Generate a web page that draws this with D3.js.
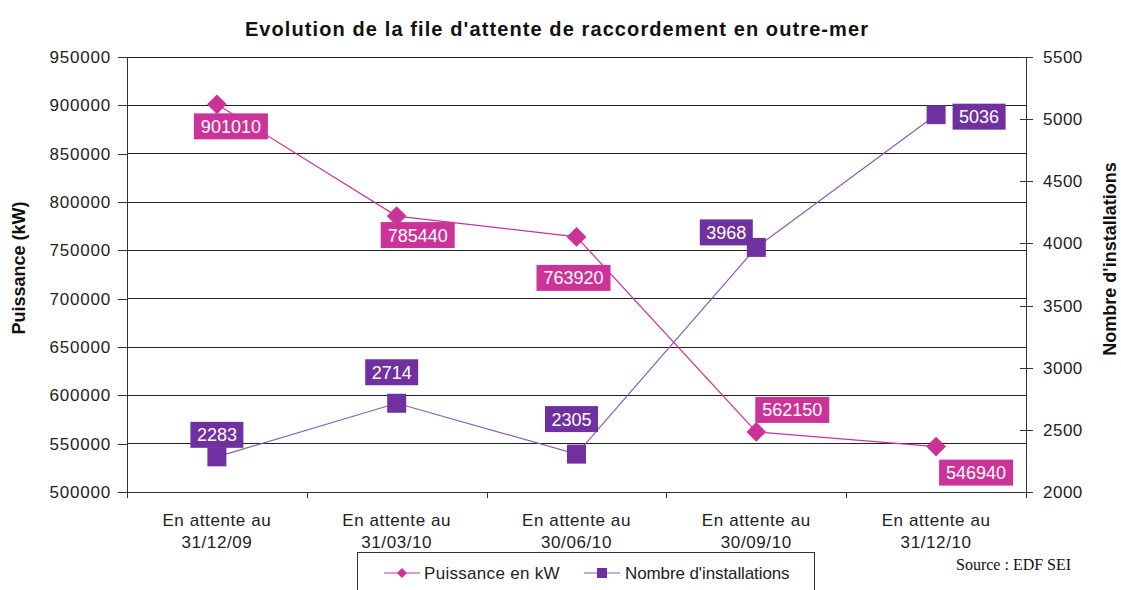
<!DOCTYPE html>
<html><head><meta charset="utf-8">
<script src="https://cdn.jsdelivr.net/npm/d3@7/dist/d3.min.js"></script>
<style>body{margin:0;background:#fff}svg{display:block}</style>
</head><body><svg id="c" width="1121" height="590" font-family='"Liberation Sans",Arial,sans-serif'></svg>
<script>
const categories = [["En attente au","31/12/09"],["En attente au","31/03/10"],["En attente au","30/06/10"],["En attente au","30/09/10"],["En attente au","31/12/10"]];
const puissance = [901010, 785440, 763920, 562150, 546940];
const installations = [2283, 2714, 2305, 3968, 5036];
const leftTicks = [500000,550000,600000,650000,700000,750000,800000,850000,900000,950000];
const rightTicks = [2000,2500,3000,3500,4000,4500,5000,5500];
const seriesNames = ["Puissance en kW","Nombre d'installations"];

const pink = "#cc3399", purple = "#7030a0";
const SANS = '"Liberation Sans",Arial,sans-serif';
const svg = d3.select("#c");
const L = 127, R = 1026, T = 57, B = 492;
const x = d3.scaleBand().domain(d3.range(categories.length)).range([L, R]);
const cx = i => x(i) + x.bandwidth()/2;
const yL = d3.scaleLinear().domain([500000, 950000]).range([B, T]);
const yR = d3.scaleLinear().domain([2000, 5500]).range([B, T]);

svg.append("text").attr("x", 557).attr("y", 36).attr("text-anchor","middle")
  .attr("font-size", 20).attr("font-weight","bold").attr("letter-spacing", 1.1).attr("fill","#111")
  .text("Evolution de la file d'attente de raccordement en outre-mer");

// gridlines
svg.append("g").selectAll("line").data(leftTicks.slice(1)).join("line")
  .attr("x1", L).attr("x2", R).attr("y1", d=>yL(d)).attr("y2", d=>yL(d))
  .attr("stroke", "#222").attr("stroke-width", 1).attr("shape-rendering","crispEdges");

// left axis
const gl = svg.append("g").attr("transform", `translate(${L},0)`)
  .call(d3.axisLeft(yL).tickValues(leftTicks).tickFormat(d3.format("d")).tickSize(9).tickPadding(7));
gl.attr("font-family", SANS);
gl.selectAll("text").attr("font-size", 17).attr("letter-spacing",0.8).attr("fill","#222");
gl.selectAll("line,path").attr("stroke","#333").attr("shape-rendering","crispEdges");
gl.select(".domain").attr("d", `M0,${T}V${B}`);

// right axis
const gr = svg.append("g").attr("transform", `translate(${R},0)`)
  .call(d3.axisRight(yR).tickValues(rightTicks).tickFormat(d3.format("d")).tickSize(7).tickPadding(10));
gr.attr("font-family", SANS);
gr.selectAll("text").attr("font-size", 17).attr("letter-spacing",0.5).attr("fill","#222");
gr.selectAll("line,path").attr("stroke","#333").attr("shape-rendering","crispEdges");
gr.select(".domain").attr("d", `M0,${T}V${B}`);
gr.selectAll(".tick line").attr("x1", -6);

// bottom axis
const xb = d3.scaleLinear().domain([0, categories.length]).range([L, R]);
const gb = svg.append("g").attr("transform", `translate(0,${B})`)
  .call(d3.axisBottom(xb).tickValues(d3.range(categories.length+1)).tickFormat("").tickSize(6));
gb.selectAll("line,path").attr("stroke","#333").attr("shape-rendering","crispEdges");
gb.select(".domain").attr("d", `M${L},0H${R}`);
categories.forEach((c,i)=>{
  const t = svg.append("text").attr("x", cx(i)).attr("y", 526).attr("text-anchor","middle")
    .attr("font-size",17).attr("letter-spacing",0.6).attr("fill","#222");
  t.append("tspan").attr("x", cx(i)).text(c[0]);
  t.append("tspan").attr("x", cx(i)).attr("dy", 22).text(c[1]);
});

// axis titles
svg.append("text").attr("transform","translate(25,268) rotate(-90)").attr("text-anchor","middle")
  .attr("font-size",18).attr("font-weight","bold").attr("fill","#111").text("Puissance (kW)");
svg.append("text").attr("transform","translate(1116,259) rotate(-90)").attr("text-anchor","middle")
  .attr("font-size",18).attr("font-weight","bold").attr("fill","#111").text("Nombre d'installations");

// lines
svg.append("path").datum(puissance).attr("fill","none").attr("stroke",pink).attr("stroke-width",1.2)
  .attr("d", d3.line().x((d,i)=>cx(i)).y(d=>yL(d)));
svg.append("path").datum(installations).attr("fill","none").attr("stroke","#8a5cb5").attr("stroke-width",1.2)
  .attr("d", d3.line().x((d,i)=>cx(i)).y(d=>yR(d)));

// markers
svg.append("g").selectAll("rect").data(puissance).join("rect")
  .attr("x",-7).attr("y",-7).attr("width",14).attr("height",14)
  .attr("transform",(d,i)=>`translate(${cx(i)},${yL(d)}) rotate(45)`).attr("fill",pink);
svg.append("g").selectAll("rect").data(installations).join("rect")
  .attr("x",(d,i)=>cx(i)-9.5).attr("y",d=>yR(d)-9.5).attr("width",19).attr("height",19).attr("fill",purple);

// data labels (offsets of label centre from marker)
const pOff = [[14,22],[21,19],[-3,41],[36,-22],[40,26]];
const iOff = [[0,-22],[-5,-31],[-5,-35],[-30,-15],[43,2]];
function labels(vals, scale, offs, color, w){
  const g = svg.append("g").selectAll("g").data(vals).join("g")
    .attr("transform",(d,i)=>`translate(${cx(i)+offs[i][0]},${scale(d)+offs[i][1]})`);
  g.append("rect").attr("x", -w/2).attr("y",-13).attr("width", w).attr("height",26).attr("fill",color);
  g.append("text").attr("text-anchor","middle").attr("y",6.5).attr("font-size",18).attr("fill","#fff").text(d=>d);
}
labels(puissance, yL, pOff, pink, 74);
labels(installations, yR, iOff, purple, 53);

// legend
svg.append("rect").attr("x",357.5).attr("y",552.5).attr("width",457).attr("height",50).attr("fill","#fff").attr("stroke","#333");
svg.append("line").attr("x1",384).attr("x2",420).attr("y1",573).attr("y2",573).attr("stroke",pink).attr("stroke-width",1.2);
svg.append("rect").attr("x",-3.5).attr("y",-3.5).attr("width",7).attr("height",7).attr("transform","translate(402,573) rotate(45)").attr("fill",pink);
svg.append("text").attr("x",424).attr("y",579).attr("font-size",17).attr("letter-spacing",0.3).attr("fill","#222").text(seriesNames[0]);
svg.append("line").attr("x1",584).attr("x2",620).attr("y1",573).attr("y2",573).attr("stroke","#8a5cb5").attr("stroke-width",1.2);
svg.append("rect").attr("x",597).attr("y",568).attr("width",10).attr("height",10).attr("fill",purple);
svg.append("text").attr("x",625).attr("y",579).attr("font-size",17).attr("letter-spacing",-0.1).attr("fill","#222").text(seriesNames[1]);

svg.append("text").attr("x",956).attr("y",570).attr("font-size",16)
  .style("font-family",'"Liberation Serif","DejaVu Serif",serif').attr("fill","#111").text("Source : EDF SEI");
</script></body></html>
